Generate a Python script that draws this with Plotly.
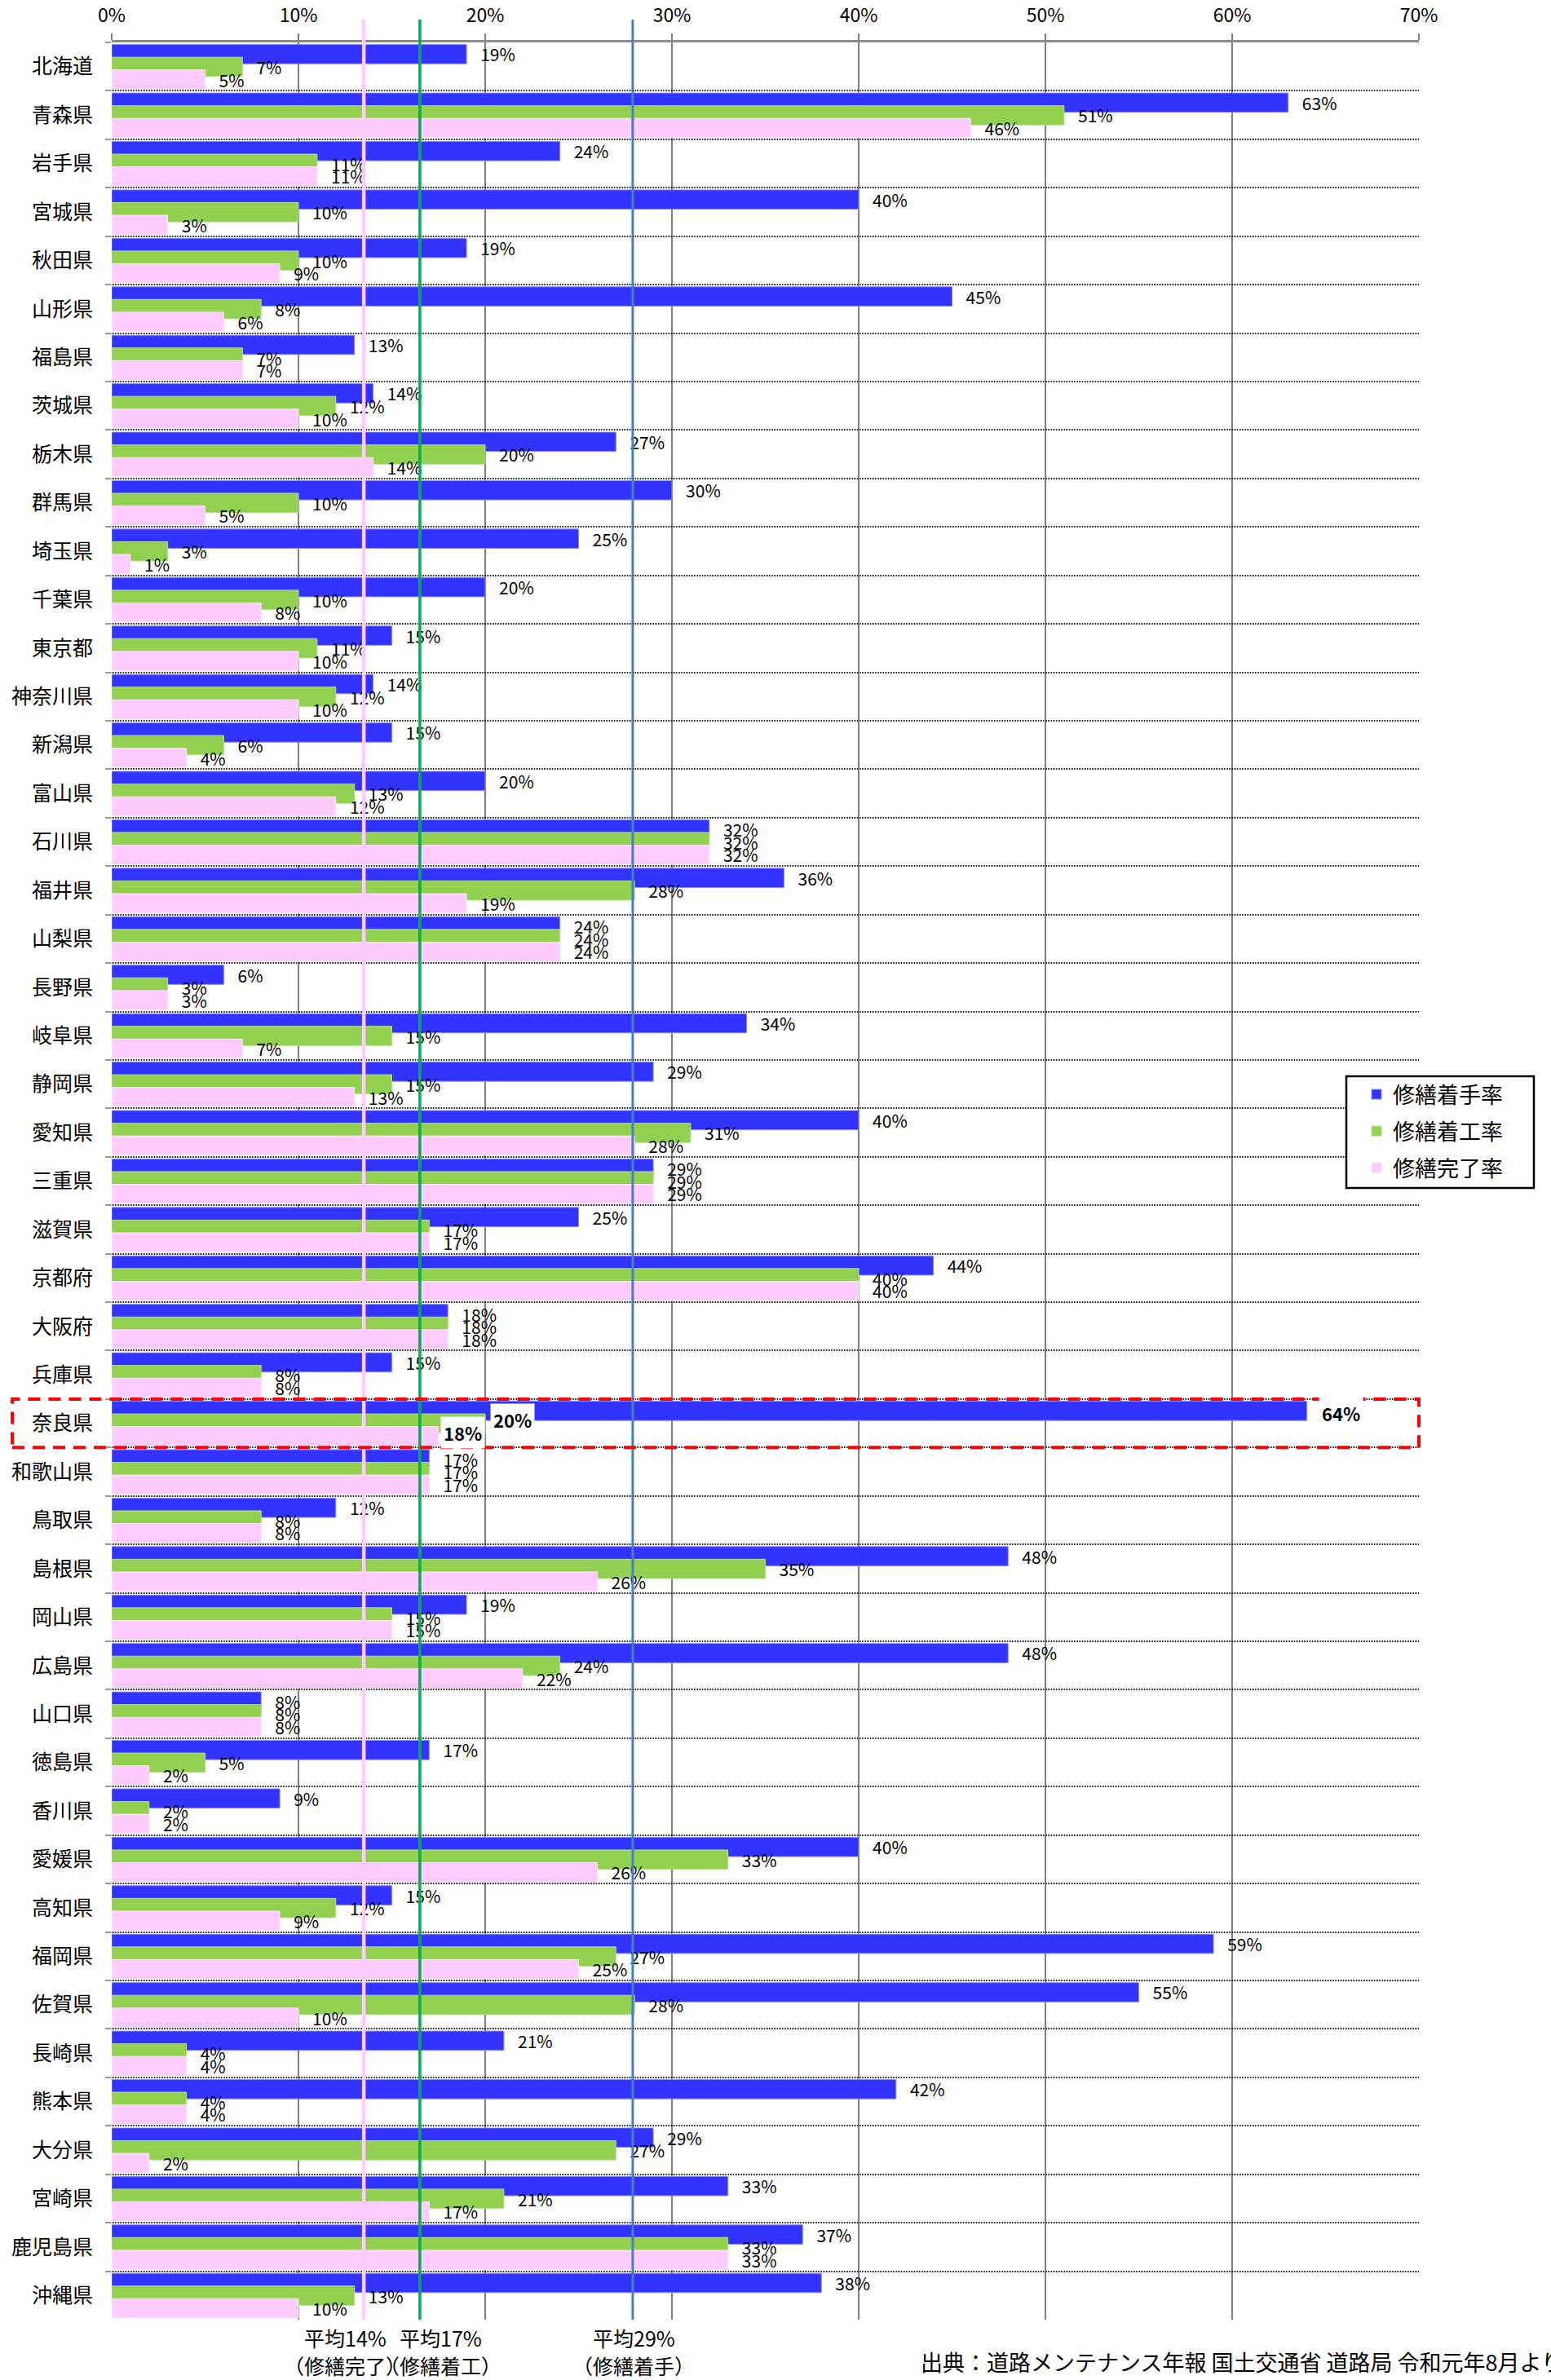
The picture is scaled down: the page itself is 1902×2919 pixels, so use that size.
import plotly.graph_objects as go

# ---------------- data ----------------
prefectures = [
    "北海道", "青森県", "岩手県", "宮城県", "秋田県", "山形県", "福島県", "茨城県", "栃木県", "群馬県",
    "埼玉県", "千葉県", "東京都", "神奈川県", "新潟県", "富山県", "石川県", "福井県", "山梨県", "長野県",
    "岐阜県", "静岡県", "愛知県", "三重県", "滋賀県", "京都府", "大阪府", "兵庫県", "奈良県", "和歌山県",
    "鳥取県", "島根県", "岡山県", "広島県", "山口県", "徳島県", "香川県", "愛媛県", "高知県", "福岡県",
    "佐賀県", "長崎県", "熊本県", "大分県", "宮崎県", "鹿児島県", "沖縄県",
]
# 修繕着手率 (%)
start_rate = [19, 63, 24, 40, 19, 45, 13, 14, 27, 30,
              25, 20, 15, 14, 15, 20, 32, 36, 24, 6,
              34, 29, 40, 29, 25, 44, 18, 15, 64, 17,
              12, 48, 19, 48, 8, 17, 9, 40, 15, 59,
              55, 21, 42, 29, 33, 37, 38]
# 修繕着工率 (%)
work_rate = [7, 51, 11, 10, 10, 8, 7, 12, 20, 10,
             3, 10, 11, 12, 6, 13, 32, 28, 24, 3,
             15, 15, 31, 29, 17, 40, 18, 8, 20, 17,
             8, 35, 15, 24, 8, 5, 2, 33, 12, 27,
             28, 4, 4, 27, 21, 33, 13]
# 修繕完了率 (%)
done_rate = [5, 46, 11, 3, 9, 6, 7, 10, 14, 5,
             1, 8, 10, 10, 4, 12, 32, 19, 24, 3,
             7, 13, 28, 29, 17, 40, 18, 8, 17.5, 17,
             8, 26, 15, 22, 8, 2, 2, 26, 9, 25,
             10, 4, 4, 2, 17, 33, 10]

series_names = ["修繕着手率", "修繕着工率", "修繕完了率"]
x_ticks = [0, 10, 20, 30, 40, 50, 60, 70]
x_tick_labels = ["0%", "10%", "20%", "30%", "40%", "50%", "60%", "70%"]
avg_titles = ["平均14%", "平均17%", "平均29%"]
avg_subtitles = ["（修繕完了）", "（修繕着工）", "（修繕着手）"]
highlight = "奈良県"
source_text = "出典：道路メンテナンス年報 国土交通省 道路局 令和元年8月より"

# ---------------- style / layout ----------------
FONT = "Noto Sans CJK JP, Noto Sans, sans-serif"
W, H = 1902, 2919
ML, MR, MT, MB = 137, 162, 52, 74
X_MAX = 70
N = len(prefectures)
PLOT_W = W - ML - MR
PLOT_H = H - MT - MB

colors = ["#3333FF", "#92D050", "#FFCCFF"]
edge_colors = ["#8C8CFF", "#B4E08C", "#FFE2FF"]
offsets = [-0.456, -0.194, 0.068]
bar_w = 0.398

avg_line_pos = [13.5, 16.5, 27.9]          # where the average lines are drawn
avg_line_colors = ["#FFCCFF", "#00B050", "#4A7EC0"]
avg_line_widths = [4.5, 3.5, 3]
avg_label_x = [12.5, 17.6, 27.95]


def px_x(p):
    return (p - ML) / PLOT_W


def px_y(p):
    return 1 - (p - MT) / PLOT_H


def lbl(v):
    return f"{int(v + 0.5)}%"


fig = go.Figure()
for name, vals, col, ecol, off in zip(series_names, [start_rate, work_rate, done_rate],
                                      colors, edge_colors, offsets):
    texts = ["" if p == highlight else "\u00a0\u00a0\u00a0" + lbl(v) for p, v in zip(prefectures, vals)]
    fig.add_trace(go.Bar(
        y=prefectures, x=vals, name=name, orientation="h", legendgroup=name,
        offset=off, width=bar_w,
        marker=dict(color=col, line=dict(color=ecol, width=1)),
        text=texts, textposition="outside", cliponaxis=False, constraintext="none",
        textfont=dict(family=FONT, size=21, color="black"),
        hoverinfo="skip",
    ))

shapes = []
# average lines
for pos, c, w in zip(avg_line_pos, avg_line_colors, avg_line_widths):
    shapes.append(dict(type="line", xref="paper", yref="paper",
                       x0=pos / X_MAX, x1=pos / X_MAX, y0=0, y1=1 + 28 / PLOT_H,
                       line=dict(color=c, width=w), layer="above"))
# highlight rectangle for Nara
hi = prefectures.index(highlight)
shapes.append(dict(type="rect", xref="paper", yref="paper",
                   x0=px_x(15), x1=1.0,
                   y0=1 - (hi + 1) / N, y1=1 - hi / N,
                   line=dict(color="#FF0000", width=4, dash="15px,10px"),
                   fillcolor="rgba(0,0,0,0)", layer="above"))
# legend frame
shapes.append(dict(type="rect", xref="paper", yref="paper",
                   x0=px_x(1651), x1=px_x(1881), y0=px_y(1457), y1=px_y(1320),
                   line=dict(color="black", width=2.5), fillcolor="white", layer="above"))

annotations = []
# Nara labels (bold, white background)
nara_yshift = [13, 5, -11]
nara_xshift = [14, 6, 2]
for vals, ys, xs in zip([start_rate, work_rate, done_rate], nara_yshift, nara_xshift):
    v = vals[hi]
    annotations.append(dict(x=v, y=highlight, xref="x", yref="y", text=f"<b>{lbl(v)}</b>",
                            showarrow=False, xanchor="left", yanchor="middle",
                            xshift=xs, yshift=ys, bgcolor="white", borderpad=3,
                            font=dict(family=FONT, size=22, color="black")))
# average labels below the plot
for t, s, x in zip(avg_titles, avg_subtitles, avg_label_x):
    annotations.append(dict(x=x, y=px_y(2867), xref="x", yref="paper", text=t,
                            showarrow=False, xanchor="center", yanchor="middle",
                            font=dict(family=FONT, size=25, color="black")))
    annotations.append(dict(x=x, y=px_y(2901), xref="x", yref="paper", text=s,
                            showarrow=False, xanchor="center", yanchor="middle",
                            font=dict(family=FONT, size=25, color="black")))
# source
annotations.append(dict(x=px_x(1127), y=px_y(2896),
                        xref="paper", yref="paper", text=source_text, showarrow=False,
                        xanchor="left", yanchor="middle",
                        font=dict(family=FONT, size=27, color="black")))

fig.update_layout(
    width=W, height=H,
    margin=dict(l=ML, r=MR, t=MT, b=MB, pad=0, autoexpand=False),
    paper_bgcolor="white", plot_bgcolor="white",
    barmode="overlay",
    font=dict(family=FONT, color="black"),
    shapes=shapes, annotations=annotations,
    legend=dict(x=px_x(1668), y=px_y(1318),
                xanchor="left", yanchor="top", traceorder="grouped", tracegroupgap=7,
                bgcolor="rgba(0,0,0,0)", borderwidth=0,
                font=dict(family=FONT, size=27, color="black")),
    showlegend=True,
)
fig.update_xaxes(
    side="top", range=[0, X_MAX], tickmode="array", tickvals=x_ticks, ticktext=x_tick_labels,
    showgrid=True, gridcolor="#808080", gridwidth=1.5, zeroline=False,
    ticks="outside", ticklen=8, tickcolor="#808080", tickwidth=1.5,
    showline=True, linecolor="#8C8C8C", linewidth=3, automargin=False,
    tickfont=dict(family=FONT, size=23, color="black"), ticklabelstandoff=5,
)
fig.update_yaxes(
    type="category", categoryorder="array", categoryarray=prefectures,
    range=[N - 0.5, -0.5], tickson="boundaries", automargin=False,
    showgrid=True, gridcolor="#222222", gridwidth=2, griddash="1px,1px",
    ticks="outside", ticklen=7, tickcolor="#999999", tickwidth=1.5,
    showline=False, zeroline=False,
    tickfont=dict(family=FONT, size=25, color="black"), ticklabelstandoff=22,
)

fig.write_html("out.html", config={"displayModeBar": False},
               post_script="document.body.style.margin='0';document.body.style.overflow='hidden';")
